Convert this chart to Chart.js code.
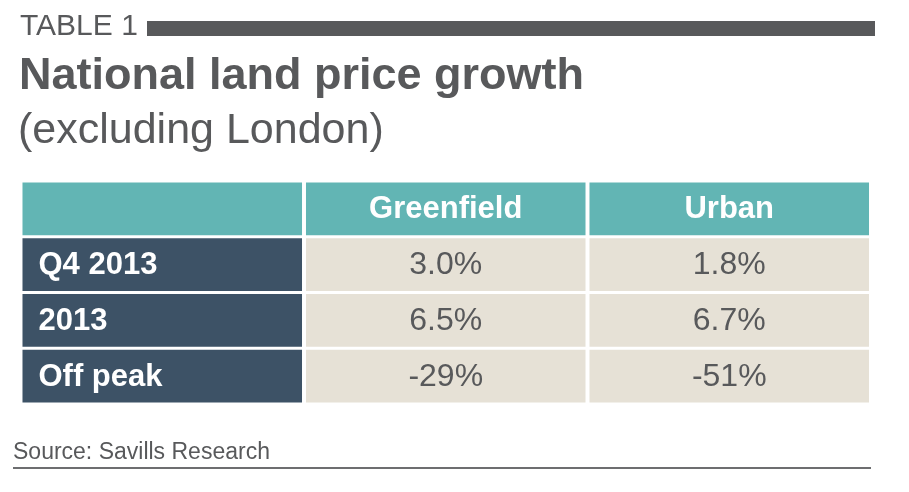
<!DOCTYPE html>
<html>
<head>
<meta charset="utf-8">
<script src="https://cdn.jsdelivr.net/npm/chart.js@4"></script>
<style>
  html, body { margin: 0; padding: 0; background: #fff; }
  canvas { display: block; }
</style>
</head>
<body>
<canvas id="tbl" width="909" height="492"></canvas>
<script>
// table contents
const columns = ['Greenfield', 'Urban'];
const rows = ['Q4 2013', '2013', 'Off peak'];
const greenfield = [3.0, 6.5, -29];
const urban = [1.8, 6.7, -51];
const decimals = [1, 1, 0];

const titleTag = 'TABLE 1';
const titleMain = 'National land price growth';
const titleSub = '(excluding London)';
const source = 'Source: Savills Research';

const teal = '#62b5b4';
const slate = '#3d5266';
const beige = '#e6e1d6';
const grey = '#58595b';
const font = '"Liberation Sans", Arial, Helvetica, sans-serif';

// y categories: header row + data rows
const yLabels = [''].concat(rows);
const half = 0.493;

// one floating bar per cell, one dataset per column
function colCells(i) {
    return yLabels.map(() => [i - half, i + half]);
}
const datasets = [
    { data: colCells(0), backgroundColor: yLabels.map((r, j) => j === 0 ? teal : slate) },
    { data: colCells(1), backgroundColor: yLabels.map((r, j) => j === 0 ? teal : beige) },
    { data: colCells(2), backgroundColor: yLabels.map((r, j) => j === 0 ? teal : beige) }
].map(d => Object.assign(d, { grouped: false, borderWidth: 0, barPercentage: 0.945, categoryPercentage: 1 }));

const fmt = (v, d) => v.toFixed(d) + '%';

const cellText = {
    id: 'cellText',
    afterDatasetsDraw(chart) {
        const ctx = chart.ctx;
        const x = chart.scales.x, y = chart.scales.y;
        ctx.save();
        ctx.textBaseline = 'middle';
        // header
        ctx.fillStyle = '#fff';
        ctx.font = 'bold 31px ' + font;
        ctx.textAlign = 'center';
        columns.forEach((c, i) => ctx.fillText(c, x.getPixelForValue(i + 1), y.getPixelForValue(0) + 1));
        // row labels
        ctx.textAlign = 'left';
        rows.forEach((r, j) => ctx.fillText(r, x.getPixelForValue(-half) + 16, y.getPixelForValue(j + 1) + 1));
        // values
        ctx.fillStyle = grey;
        ctx.font = '32px ' + font;
        ctx.textAlign = 'center';
        [greenfield, urban].forEach((series, i) => {
            series.forEach((v, j) => ctx.fillText(fmt(v, decimals[j]), x.getPixelForValue(i + 1), y.getPixelForValue(j + 1) + 1));
        });
        ctx.restore();
    },
    afterDraw(chart) {
        const ctx = chart.ctx;
        ctx.save();
        ctx.fillStyle = grey;
        ctx.textBaseline = 'alphabetic';
        ctx.textAlign = 'left';
        ctx.font = '30px ' + font;
        ctx.fillText(titleTag, 20, 35);
        ctx.fillRect(147, 21, 728, 15);
        ctx.font = 'bold 45px ' + font;
        ctx.fillText(titleMain, 19, 89);
        ctx.font = '43px ' + font;
        ctx.fillText(titleSub, 18, 143);
        ctx.font = '23px ' + font;
        ctx.fillText(source, 13, 459);
        ctx.fillStyle = '#6d6e70';
        ctx.fillRect(13, 467, 858, 2);
        ctx.restore();
    }
};

new Chart(document.getElementById('tbl'), {
    type: 'bar',
    data: { labels: yLabels, datasets: datasets },
    options: {
        indexAxis: 'y',
        responsive: false,
        animation: false,
        devicePixelRatio: 1,
        layout: { padding: { left: 20.5, right: 38, top: 181, bottom: 88 } },
        scales: {
            x: { type: 'linear', min: -0.5, max: 2.5, display: false },
            y: { type: 'category', display: false }
        },
        plugins: { legend: { display: false }, tooltip: { enabled: false }, title: { display: false } }
    },
    plugins: [cellText]
});
</script>
</body>
</html>
